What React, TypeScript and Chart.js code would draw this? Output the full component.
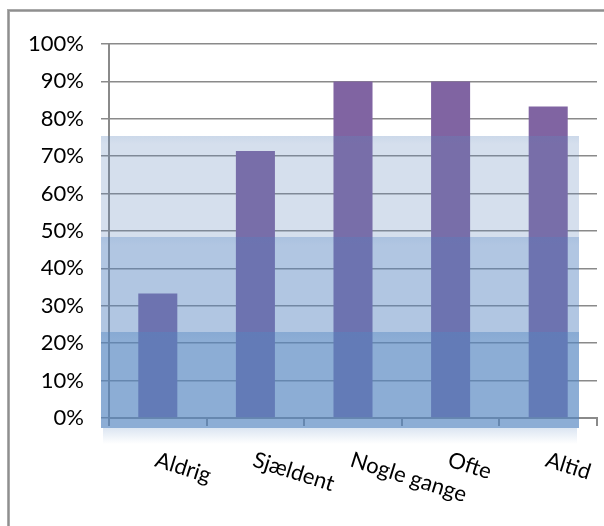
import React, { useEffect, useRef } from 'react';
import { Chart, registerables } from 'chart.js';

Chart.register(...registerables);

const categories = ['Aldrig', 'Sjældent', 'Nogle gange', 'Ofte', 'Altid'];
const values = [33.3, 71.4, 90, 90, 83.3];
const yTickStep = 10;
// background bands (value edges, bottom to top) and their overlay colours
const bandEdges = [-2.7, 23.1, 48.5, 75.4];
const bandColors = ['rgba(85,134,193,0.68)', 'rgba(87,132,192,0.465)', 'rgba(98,135,188,0.27)'];

const GRID = '#8a8a8a';
const LABEL_ANGLE = 17.5;

export default function App() {
  const ref = useRef<HTMLCanvasElement>(null);

  useEffect(() => {
    const canvas = ref.current!;

    const framePlugin = {
      id: 'frame',
      beforeDraw(chart: any) {
        const ctx = chart.ctx;
        ctx.save();
        ctx.fillStyle = '#ffffff';
        ctx.fillRect(0, 0, chart.width, chart.height);
        ctx.fillStyle = '#aaaaaa';
        ctx.fillRect(7, 9, chart.width, 3);
        ctx.fillRect(7, 9, 3, chart.height);
        ctx.fillStyle = '#8f8f8f';
        ctx.fillRect(8, 10, chart.width, 1);
        ctx.fillRect(8, 10, 1, chart.height);
        ctx.restore();
      },
    };

    const bandsPlugin = {
      id: 'bands',
      afterDatasetsDraw(chart: any) {
        const { ctx, chartArea, scales } = chart;
        const y = scales.y;
        const left = Math.round(chartArea.left - 8);
        const right = Math.round(chartArea.right - 18);
        ctx.save();
        for (let i = 0; i < bandColors.length; i++) {
          const top = Math.round(y.getPixelForValue(bandEdges[i + 1]));
          const bottom = Math.round(y.getPixelForValue(bandEdges[i]));
          ctx.fillStyle = bandColors[i];
          ctx.fillRect(left, top, right - left, bottom - top);
          const g = ctx.createLinearGradient(0, top, 0, top + 8);
          g.addColorStop(0, 'rgba(79,129,189,0.07)');
          g.addColorStop(1, 'rgba(79,129,189,0)');
          ctx.fillStyle = g;
          ctx.fillRect(left, top, right - left, 8);
        }
        const b = Math.round(y.getPixelForValue(bandEdges[0]));
        const sg = ctx.createLinearGradient(0, b, 0, b + 16);
        sg.addColorStop(0, 'rgba(79,129,189,0.2)');
        sg.addColorStop(1, 'rgba(79,129,189,0)');
        ctx.fillStyle = sg;
        ctx.fillRect(left + 2, b, right - left - 4, 16);
        ctx.restore();
      },
    };

    const labelsPlugin = {
      id: 'rotLabels',
      afterDraw(chart: any) {
        const { ctx, scales } = chart;
        const x = scales.x;
        ctx.save();
        ctx.font = '22px Lato';
        ctx.fillStyle = '#000000';
        ctx.textAlign = 'left';
        ctx.textBaseline = 'alphabetic';
        categories.forEach((c, i) => {
          const px = x.getPixelForTick(i) - 4;
          const py = x.top + 48;
          ctx.save();
          ctx.translate(px, py);
          ctx.rotate((LABEL_ANGLE * Math.PI) / 180);
          ctx.fillText(c, 0, 0);
          ctx.restore();
        });
        ctx.restore();
      },
    };

    const chart = new Chart(canvas, {
      type: 'bar',
      data: {
        labels: categories,
        datasets: [
          {
            data: values,
            backgroundColor: '#8064A2',
            borderWidth: 0,
            barPercentage: 0.4,
            categoryPercentage: 1,
          },
        ],
      },
      options: {
        responsive: false,
        animation: false,
        layout: { padding: { left: 0, right: 7, top: 44, bottom: 0 } },
        plugins: { legend: { display: false }, tooltip: { enabled: false } },
        scales: {
          x: {
            type: 'category',
            offset: true,
            grid: {
              display: true,
              drawOnChartArea: false,
              offset: true,
              tickLength: 8,
              color: GRID,
              lineWidth: 2,
            },
            border: { display: true, color: GRID, width: 2 },
            ticks: { display: false },
            afterFit: (s: any) => {
              s.height = 108;
            },
          },
          y: {
            min: 0,
            max: 100,
            ticks: {
              stepSize: yTickStep,
              callback: (v: any) => v + '%',
              font: { family: 'Lato', size: 22 },
              color: '#000000',
              padding: 17,
            },
            grid: { color: GRID, lineWidth: 1.5, tickLength: 8 },
            border: { display: true, color: GRID, width: 2 },
            afterFit: (s: any) => {
              s.width = 109;
            },
          },
        },
      },
      plugins: [framePlugin, bandsPlugin, labelsPlugin],
    });

    return () => chart.destroy();
  }, []);

  return (
    <canvas
      ref={ref}
      width={604}
      height={526}
      style={{ position: 'fixed', left: 0, top: 0, width: 604, height: 526, display: 'block' }}
    />
  );
}
